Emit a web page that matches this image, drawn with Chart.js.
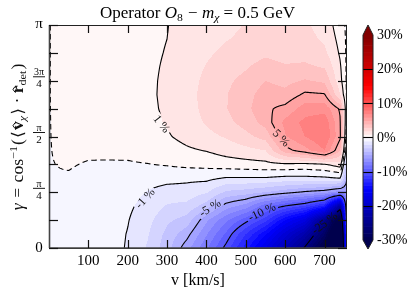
<!DOCTYPE html>
<html><head><meta charset="utf-8">
<script src="https://cdn.jsdelivr.net/npm/chart.js@4/dist/chart.umd.min.js"></script>
<style>html,body{margin:0;padding:0;background:#fff;overflow:hidden}</style>
</head><body>
<canvas id="c" width="417" height="298"></canvas>
<script>
// ---------- data ----------
const velocities = [0, 50, 100, 150, 200, 250, 300, 350, 400, 450, 500, 550, 600, 650, 700, 740, 757];
const gammaSixteenths = [0, 1, 2, 3, 4, 5, 6, 7, 8, 9, 10, 11, 12, 13, 14, 15, 16];
const gammaValues = gammaSixteenths.map(k => k * Math.PI / 16);
// percent difference, one array per velocity, values from gamma = 0 up to gamma = pi
const deltaByVelocity = [
  [-0.02,-0.02,-0.02,-0.02,-0.02,-0.02,-0.02,-0.02,-0.02,-0.02,-0.02,-0.02,-0.02,-0.02,-0.02,-0.02,-0.02],
  [-0.12,-0.12,-0.11,-0.10,-0.08,-0.05,0.04,0.12,0.18,0.22,0.25,0.27,0.28,0.28,0.28,0.28,0.28],
  [-0.30,-0.30,-0.28,-0.25,-0.20,-0.14,-0.04,0.10,0.20,0.30,0.35,0.40,0.42,0.43,0.43,0.43,0.43],
  [-0.62,-0.60,-0.55,-0.48,-0.38,-0.26,-0.07,0.15,0.32,0.43,0.50,0.55,0.58,0.60,0.60,0.60,0.60],
  [-1.08,-1.04,-0.95,-0.82,-0.64,-0.42,-0.09,0.22,0.42,0.56,0.65,0.70,0.73,0.74,0.74,0.74,0.74],
  [-2.1,-1.9,-1.65,-1.35,-1.05,-0.60,-0.03,0.40,0.62,0.75,0.83,0.86,0.86,0.85,0.84,0.83,0.82],
  [-3.6,-3.3,-2.8,-2.1,-1.4,-0.70,0.08,0.55,0.90,1.07,1.13,1.15,1.13,1.09,1.04,1.00,0.97],
  [-5.6,-4.6,-3.4,-2.3,-1.4,-0.80,0.25,0.85,1.30,1.55,1.65,1.68,1.65,1.58,1.50,1.42,1.35],
  [-7.8,-6.9,-5.8,-3.5,-1.9,-0.75,0.30,1.05,1.70,2.10,2.25,2.30,2.20,2.05,1.85,1.70,1.55],
  [-10.4,-9.2,-7.8,-5.5,-3.2,-1.10,0.50,1.40,2.10,2.70,2.95,2.95,2.80,2.50,2.20,1.95,1.75],
  [-13.5,-12.0,-9.6,-6.5,-3.5,-1.10,0.60,1.70,2.70,3.40,3.70,3.60,3.30,2.90,2.50,2.20,2.05],
  [-17,-14.8,-11.6,-8.7,-4.0,-1.10,0.70,2.00,3.40,4.40,4.80,4.50,4.00,3.40,2.80,2.40,2.20],
  [-21,-18.5,-15,-10.1,-4.6,-1.30,0.80,4.60,5.90,6.30,5.30,4.30,3.70,3.10,2.60,2.35,2.25],
  [-25.3,-22,-17.5,-11.2,-5.2,-1.30,0.70,5.60,7.00,7.30,6.50,5.20,4.10,3.20,2.60,2.30,2.15],
  [-31,-28,-24.8,-13.5,-5.6,-1.20,0.90,7.00,8.00,7.70,6.60,5.10,3.80,2.90,2.20,1.85,1.65],
  [-38,-36,-32,-23,-6.5,-1.00,1.50,4.00,5.20,5.10,4.80,2.00,1.30,1.10,0.85,0.65,0.40],
  [-10,-9,-8,-7,-6,-5,-3.5,-2,-1,-0.5,-0.3,-0.2,-0.2,-0.2,-0.2,-0.2,-0.2]
];
const contourLevels = [-25, -10, -5, -1, 0, 1, 5];
const fillStep = 1, fillMin = -30, fillMax = 30;
const xTickValues = [100, 200, 300, 400, 500, 600, 700];
const yTickEighths = [0, 1, 2, 3, 4, 5, 6, 7, 8];
const yLabelEighths = [0, 2, 4, 6, 8];
const yTickLabels = [['0'], ['π', '4'], ['π', '2'], ['3π', '4'], ['π']];
const colorbarTicks = [30, 20, 10, 0, -10, -20, -30];
const colorbarLines = [20, 10, 0, -10, -20];
const contourLabels = [
  { text: '1 %', v: 286, g: 1.747, angle: 52 },
  { text: '5 %', v: 590, g: 1.55, angle: 45 },
  { text: '-1 %', v: 244, g: 0.70, angle: -48 },
  { text: '-5 %', v: 409, g: 0.564, angle: -32 },
  { text: '-10 %', v: 541, g: 0.507, angle: -25 },
  { text: '-25 %', v: 700, g: 0.352, angle: -37 }
];

// ---------- colours ----------
const SEISMIC = [[0, 0, 0, 0.3], [0.25, 0, 0, 1], [0.5, 1, 1, 1], [0.75, 1, 0, 0], [1, 0.5, 0, 0]];
function seismic(t) {
  t = Math.max(0, Math.min(1, t));
  for (let i = 0; i < 4; i++) {
    const a = SEISMIC[i], b = SEISMIC[i + 1];
    if (t <= b[0]) {
      const f = (t - a[0]) / (b[0] - a[0]);
      return [1, 2, 3].map(c => Math.round(255 * (a[c] + (b[c] - a[c]) * f)));
    }
  }
  return [128, 0, 0];
}
const fillLevels = [];
for (let l = fillMin; l <= fillMax + 1e-9; l += fillStep) fillLevels.push(l);
const bandColors = [];
for (let i = 0; i < fillLevels.length - 1; i++) {
  const mid = (fillLevels[i] + fillLevels[i + 1]) / 2;
  bandColors.push(seismic((mid - fillMin) / (fillMax - fillMin)));
}
const underColor = seismic(0), overColor = seismic(1);
function bandColor(z) {
  if (z < fillLevels[0]) return underColor;
  if (z >= fillLevels[fillLevels.length - 1]) return overColor;
  let i = Math.floor((z - fillMin) / fillStep);
  i = Math.max(0, Math.min(bandColors.length - 1, i));
  return bandColors[i];
}
const rgb = c => `rgb(${c[0]},${c[1]},${c[2]})`;

// ---------- field ----------
function findCell(arr, val) {
  for (let k = 0; k < arr.length - 1; k++) if (val <= arr[k + 1]) return k;
  return arr.length - 2;
}
function fieldAt(v, g) {
  const i = findCell(velocities, v), j = findCell(gammaValues, g);
  let tx = (v - velocities[i]) / (velocities[i + 1] - velocities[i]);
  let ty = (g - gammaValues[j]) / (gammaValues[j + 1] - gammaValues[j]);
  tx = Math.max(0, Math.min(1, tx)); ty = Math.max(0, Math.min(1, ty));
  const z00 = deltaByVelocity[i][j], z10 = deltaByVelocity[i + 1][j];
  const z01 = deltaByVelocity[i][j + 1], z11 = deltaByVelocity[i + 1][j + 1];
  return z00 * (1 - tx) * (1 - ty) + z10 * tx * (1 - ty) + z01 * (1 - tx) * ty + z11 * tx * ty;
}

// ---------- marching squares ----------
function contourLines(F, X, Y, level) {
  const N = X.length, M = Y.length;
  const segs = [];
  const hP = (i, j) => { const a = F[j * N + i], b = F[j * N + i + 1]; const t = (level - a) / (b - a); return [X[i] + t * (X[i + 1] - X[i]), Y[j]]; };
  const vP = (i, j) => { const a = F[j * N + i], b = F[(j + 1) * N + i]; const t = (level - a) / (b - a); return [X[i], Y[j] + t * (Y[j + 1] - Y[j])]; };
  for (let j = 0; j < M - 1; j++) {
    for (let i = 0; i < N - 1; i++) {
      const a = F[j * N + i], b = F[j * N + i + 1], c = F[(j + 1) * N + i + 1], d = F[(j + 1) * N + i];
      const code = (a >= level ? 8 : 0) | (b >= level ? 4 : 0) | (c >= level ? 2 : 0) | (d >= level ? 1 : 0);
      if (code === 0 || code === 15) continue;
      const E = {
        t: () => ['h' + (j * N + i), hP(i, j)],
        b: () => ['h' + ((j + 1) * N + i), hP(i, j + 1)],
        l: () => ['v' + (j * N + i), vP(i, j)],
        r: () => ['v' + (j * N + i + 1), vP(i + 1, j)]
      };
      const add = (p, q) => { const A = E[p](), B = E[q](); segs.push({ ka: A[0], pa: A[1], kb: B[0], pb: B[1] }); };
      const centerIn = (a + b + c + d) / 4 >= level;
      switch (code) {
        case 1: case 14: add('l', 'b'); break;
        case 2: case 13: add('b', 'r'); break;
        case 3: case 12: add('l', 'r'); break;
        case 4: case 11: add('t', 'r'); break;
        case 6: case 9: add('t', 'b'); break;
        case 7: case 8: add('l', 't'); break;
        case 5: if (centerIn) { add('l', 't'); add('b', 'r'); } else { add('t', 'r'); add('l', 'b'); } break;
        case 10: if (centerIn) { add('t', 'r'); add('l', 'b'); } else { add('l', 't'); add('b', 'r'); } break;
      }
    }
  }
  const map = new Map();
  segs.forEach((s, idx) => { [s.ka, s.kb].forEach(k => { if (!map.has(k)) map.set(k, []); map.get(k).push(idx); }); });
  const used = new Uint8Array(segs.length);
  const lines = [];
  for (let s0 = 0; s0 < segs.length; s0++) {
    if (used[s0]) continue;
    used[s0] = 1;
    const s = segs[s0];
    const fwd = [s.pa, s.pb];
    let key = s.kb;
    for (;;) {
      const cand = (map.get(key) || []).find(t => !used[t]);
      if (cand === undefined) break;
      used[cand] = 1; const t = segs[cand];
      if (t.ka === key) { fwd.push(t.pb); key = t.kb; } else { fwd.push(t.pa); key = t.ka; }
    }
    const back = [];
    key = s.ka;
    for (;;) {
      const cand = (map.get(key) || []).find(t => !used[t]);
      if (cand === undefined) break;
      used[cand] = 1; const t = segs[cand];
      if (t.ka === key) { back.push(t.pb); key = t.kb; } else { back.push(t.pa); key = t.ka; }
    }
    lines.push(back.reverse().concat(fwd));
  }
  return lines;
}

// ---------- rich text ----------
const SERIF = '"Liberation Serif", "DejaVu Serif", serif';
function measureRich(ctx, parts) {
  let w = 0;
  for (const p of parts) { ctx.font = p.f; w += ctx.measureText(p.t).width + (p.sp || 0); }
  return w;
}
function drawRich(ctx, parts) {
  let cx = 0;
  for (const p of parts) {
    ctx.font = p.f;
    ctx.fillText(p.t, cx, p.dy || 0);
    const w = ctx.measureText(p.t).width;
    if (p.hat) {
      const hx = cx + w / 2 + (p.hatDx || 0), hy = (p.dy || 0) + p.hat;
      ctx.save(); ctx.lineWidth = 0.9; ctx.strokeStyle = '#000';
      ctx.beginPath(); ctx.moveTo(hx - 2.6, hy + 2); ctx.lineTo(hx, hy); ctx.lineTo(hx + 2.6, hy + 2); ctx.stroke();
      ctx.restore();
    }
    cx += w + (p.sp || 0);
  }
}

// ---------- plugin ----------
const contourPlugin = {
  id: 'contourField',
  afterDraw(chart) {
    const ctx = chart.ctx, xs = chart.scales.x, ys = chart.scales.y, cb = chart.scales.cb;
    const a = chart.chartArea;
    const L = Math.round(a.left), T = Math.round(a.top);
    const W = Math.round(a.right) - L, H = Math.round(a.bottom) - T;

    // filled contours
    const img = ctx.createImageData(W, H);
    for (let py = 0; py < H; py++) {
      const g = ys.getValueForPixel(T + py + 0.5);
      for (let px = 0; px < W; px++) {
        const v = xs.getValueForPixel(L + px + 0.5);
        const c = bandColor(fieldAt(v, g));
        const o = (py * W + px) * 4;
        img.data[o] = c[0]; img.data[o + 1] = c[1]; img.data[o + 2] = c[2]; img.data[o + 3] = 255;
      }
    }
    ctx.putImageData(img, L, T);

    // contour lines
    const X = [], Y = [];
    for (let i = 0; i <= W; i++) X.push(L + i);
    for (let j = 0; j <= H; j++) Y.push(T + j);
    const F = new Float64Array(X.length * Y.length);
    for (let j = 0; j < Y.length; j++) {
      const g = Math.max(0, Math.min(Math.PI, ys.getValueForPixel(Y[j])));
      for (let i = 0; i < X.length; i++) {
        const v = Math.max(0, Math.min(757, xs.getValueForPixel(X[i])));
        F[j * X.length + i] = fieldAt(v, g);
      }
    }
    ctx.save();
    ctx.font = '12px ' + SERIF;
    ctx.beginPath();
    ctx.rect(L, T, W, H);
    const lab = contourLabels.map(lb => {
      const px = xs.getPixelForValue(lb.v), py = ys.getPixelForValue(lb.g);
      const w = ctx.measureText(lb.text).width + 4, h = 11;
      const ang = lb.angle * Math.PI / 180, ca = Math.cos(ang), sa = Math.sin(ang);
      const pts = [[-w / 2, -h / 2], [w / 2, -h / 2], [w / 2, h / 2], [-w / 2, h / 2]].map(([u, q]) => [px + u * ca - q * sa, py + u * sa + q * ca]);
      ctx.moveTo(pts[0][0], pts[0][1]);
      for (let k = 1; k < 4; k++) ctx.lineTo(pts[k][0], pts[k][1]);
      ctx.closePath();
      return { px, py, ang, text: lb.text };
    });
    ctx.clip('evenodd');
    ctx.strokeStyle = '#000';
    ctx.lineWidth = 1.1;
    ctx.lineJoin = 'round';
    for (const lev of contourLevels) {
      const lines = contourLines(F, X, Y, lev);
      ctx.setLineDash(lev === 0 ? [5.5, 3.5] : []);
      for (const ln of lines) {
        if (ln.length < 2) continue;
        ctx.beginPath();
        ctx.moveTo(ln[0][0], ln[0][1]);
        for (let k = 1; k < ln.length; k++) ctx.lineTo(ln[k][0], ln[k][1]);
        ctx.stroke();
      }
    }
    ctx.restore();

    // contour labels
    ctx.save();
    ctx.fillStyle = '#111';
    ctx.font = '12px ' + SERIF;
    ctx.textAlign = 'center'; ctx.textBaseline = 'middle';
    for (const lb of lab) {
      ctx.save(); ctx.translate(lb.px, lb.py); ctx.rotate(lb.ang); ctx.fillText(lb.text, 0, 0.5); ctx.restore();
    }
    ctx.restore();

    // frame and inward ticks
    ctx.save();
    ctx.strokeStyle = '#222';
    ctx.lineWidth = 1;
    ctx.strokeRect(L + 0.5, T + 0.5, W - 1, H);
    ctx.lineWidth = 1.6;
    ctx.strokeStyle = '#444';
    ctx.beginPath(); ctx.moveTo(L, T + H); ctx.lineTo(L + W, T + H); ctx.stroke();
    ctx.beginPath(); ctx.moveTo(L + 0.5, T); ctx.lineTo(L + 0.5, T + H); ctx.stroke();
    ctx.strokeStyle = '#111';
    ctx.lineWidth = 1.2;
    for (const tv of xTickValues) {
      const px = Math.round(xs.getPixelForValue(tv)) + 0.5;
      ctx.beginPath(); ctx.moveTo(px, T + H); ctx.lineTo(px, T + H - 8); ctx.stroke();
      ctx.beginPath(); ctx.moveTo(px, T); ctx.lineTo(px, T + 8); ctx.stroke();
    }
    for (const e of yTickEighths) {
      const py = Math.round(ys.getPixelForValue(e * Math.PI / 8)) + 0.5;
      ctx.beginPath(); ctx.moveTo(L, py); ctx.lineTo(L + 9, py); ctx.stroke();
      ctx.beginPath(); ctx.moveTo(L + W, py); ctx.lineTo(L + W - 9, py); ctx.stroke();
    }
    ctx.restore();

    // tick labels
    ctx.save();
    ctx.fillStyle = '#000';
    ctx.font = '15px ' + SERIF;
    ctx.textAlign = 'center'; ctx.textBaseline = 'alphabetic';
    for (const tv of xTickValues) ctx.fillText(String(tv), xs.getPixelForValue(tv), 265);
    yLabelEighths.forEach((e, idx) => {
      const py = ys.getPixelForValue(e * Math.PI / 8);
      const lbl = yTickLabels[idx];
      const cx = 39;
      if (lbl.length === 1) {
        ctx.font = '15px ' + SERIF; ctx.textAlign = 'center'; ctx.textBaseline = 'middle';
        ctx.fillText(lbl[0], cx, py + (lbl[0] === 'π' ? -1 : 0));
      } else {
        const barY = py - 4;
        ctx.font = '10px ' + SERIF; ctx.textAlign = 'center'; ctx.textBaseline = 'alphabetic';
        ctx.fillText(lbl[0], cx, barY - 1.5);
        ctx.fillRect(cx - 6, barY - 0.4, 12, 0.9);
        ctx.font = '11px ' + SERIF; ctx.textBaseline = 'top';
        ctx.fillText(lbl[1], cx, barY + 2);
      }
    });
    ctx.restore();

    // colorbar
    const cbL = 363, cbW = 10, cbC = cbL + cbW / 2;
    const yTop = cb.getPixelForValue(fillMax), yBot = cb.getPixelForValue(fillMin);
    ctx.save();
    for (let i = 0; i < fillLevels.length - 1; i++) {
      const y0 = cb.getPixelForValue(fillLevels[i]), y1 = cb.getPixelForValue(fillLevels[i + 1]);
      ctx.fillStyle = rgb(bandColors[i]);
      ctx.fillRect(cbL, y1, cbW, y0 - y1 + 0.6);
    }
    ctx.fillStyle = rgb(overColor);
    ctx.beginPath(); ctx.moveTo(cbL, yTop); ctx.lineTo(cbC, yTop - 10); ctx.lineTo(cbL + cbW, yTop); ctx.closePath(); ctx.fill();
    ctx.fillStyle = rgb(underColor);
    ctx.beginPath(); ctx.moveTo(cbL, yBot); ctx.lineTo(cbC, yBot + 9); ctx.lineTo(cbL + cbW, yBot); ctx.closePath(); ctx.fill();
    ctx.strokeStyle = '#000'; ctx.lineWidth = 1.1;
    for (const lv of colorbarLines) {
      const py = Math.round(cb.getPixelForValue(lv)) + 0.5;
      ctx.beginPath(); ctx.moveTo(cbL, py); ctx.lineTo(cbL + cbW, py); ctx.stroke();
    }
    ctx.strokeStyle = '#222'; ctx.lineWidth = 1;
    ctx.beginPath();
    ctx.moveTo(cbL, yBot); ctx.lineTo(cbL, yTop); ctx.lineTo(cbC, yTop - 10); ctx.lineTo(cbL + cbW, yTop);
    ctx.lineTo(cbL + cbW, yBot); ctx.lineTo(cbC, yBot + 9); ctx.closePath(); ctx.stroke();
    ctx.fillStyle = '#000';
    ctx.font = '14px ' + SERIF; ctx.textAlign = 'left'; ctx.textBaseline = 'middle';
    for (const tv of colorbarTicks) ctx.fillText(tv + '%', 377, cb.getPixelForValue(tv) + 0.5);
    ctx.restore();

    // title
    ctx.save();
    ctx.fillStyle = '#000'; ctx.textBaseline = 'alphabetic';
    const tParts = [
      { t: 'Operator ', f: '16px ' + SERIF },
      { t: 'O', f: 'italic 16px ' + SERIF },
      { t: '8', f: '11px ' + SERIF, dy: 3, sp: 1 },
      { t: ' − ', f: '16px ' + SERIF },
      { t: 'm', f: 'italic 16px ' + SERIF },
      { t: 'χ', f: 'italic 11px ' + SERIF, dy: 3 },
      { t: ' = 0.5 GeV', f: '16px ' + SERIF }
    ];
    const tw = measureRich(ctx, tParts);
    const ts = 195 / tw;
    ctx.translate(100, 18); ctx.scale(ts, 1);
    drawRich(ctx, tParts);
    ctx.restore();

    // x title
    ctx.save();
    ctx.fillStyle = '#000'; ctx.font = '16px ' + SERIF; ctx.textAlign = 'center'; ctx.textBaseline = 'alphabetic';
    ctx.fillText('v [km/s]', (a.left + a.right) / 2, 285);
    ctx.restore();

    // y title
    ctx.save();
    ctx.fillStyle = '#111'; ctx.textBaseline = 'alphabetic';
    const yParts = [
      { t: 'γ', f: 'italic 16px ' + SERIF, sp: 5 },
      { t: '=', f: '16px ' + SERIF, sp: 5 },
      { t: 'cos', f: '16px ' + SERIF },
      { t: '−1', f: '11px ' + SERIF, dy: -6, sp: 1 },
      { t: '(', f: '16px ' + SERIF, sp: 1 },
      { t: '⟨', f: '16px ' + SERIF, sp: 1 },
      { t: 'v', f: 'bold 16px ' + SERIF, hat: -10 },
      { t: 'χ', f: 'italic 11px ' + SERIF, dy: 3, sp: 1 },
      { t: '⟩', f: '16px ' + SERIF, sp: 4 },
      { t: '·', f: '16px ' + SERIF, sp: 4 },
      { t: 'r', f: 'bold 16px ' + SERIF, hat: -10 },
      { t: 'det', f: '11px ' + SERIF, dy: 3, sp: 1 },
      { t: ')', f: '16px ' + SERIF }
    ];
    const yw = measureRich(ctx, yParts);
    const ysx = Math.max(0.9, Math.min(1.1, 167 / yw));
    ctx.translate(23, 137 + yw * ysx / 2); ctx.rotate(-Math.PI / 2); ctx.scale(ysx, 1);
    drawRich(ctx, yParts);
    ctx.restore();
  }
};

new Chart(document.getElementById('c'), {
  type: 'scatter',
  data: { datasets: [] },
  options: {
    responsive: false,
    animation: false,
    devicePixelRatio: 1,
    layout: { padding: { left: 49, right: 70, top: 25, bottom: 50 } },
    plugins: { legend: { display: false }, tooltip: { enabled: false }, title: { display: false } },
    scales: {
      x: { type: 'linear', min: 0, max: 757, display: false },
      y: { type: 'linear', min: 0, max: Math.PI, display: false },
      cb: { type: 'linear', axis: 'y', position: 'right', min: -30 - 8 / 3.4167, max: 30 + 10 / 3.4167, display: false }
    }
  },
  plugins: [contourPlugin]
});
</script>
</body></html>
